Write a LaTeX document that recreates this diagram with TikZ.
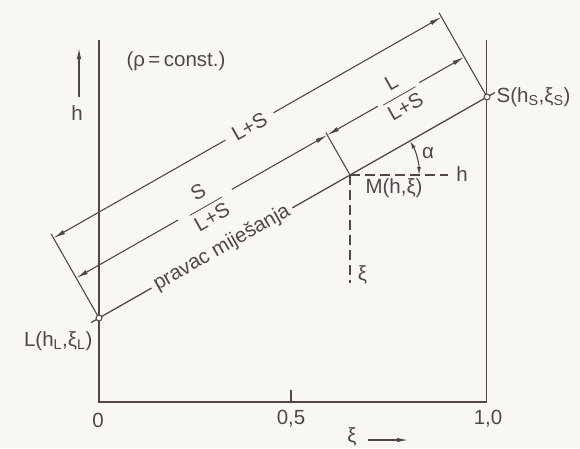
\documentclass[tikz,border=0pt]{standalone}
\usepackage{amsmath}
\usepackage{fontspec}
\setmainfont{Liberation Sans}
\usetikzlibrary{calc, arrows.meta}

\definecolor{inkc}{RGB}{84,70,72}
\definecolor{paperc}{RGB}{248,247,244}

\begin{document}
\begin{tikzpicture}[
    x=1pt, y=1pt, color=inkc, line width=1.3pt,
    every node/.style       = {font=\fontsize{20.5}{24}\selectfont, inner sep=1pt},
    endpt/.style            = {circle, draw, fill=paperc, minimum size=6pt, inner sep=0pt, line width=1pt},
    gaplab/.style           = {sloped, fill=paperc, inner xsep=9pt, inner ysep=0pt},
    dimline/.style          = {line width=1.1pt, {Latex[length=12pt,width=4.5pt]}-{Latex[length=12pt,width=4.5pt]}},
    anglearr/.style         = {line width=1.1pt, {Latex[length=8pt,width=4pt]}-{Latex[length=8pt,width=4pt]}},
    axisline/.style         = {line width=1.6pt},
    helper/.style           = {dash pattern=on 10pt off 5pt},
    pointer/.style          = {-{Latex[length=11pt,width=4.5pt]}}
    ]
      % paper ----------------------------------------------------
      \fill[paperc] (0,0) rectangle (580,-448);
      \useasboundingbox (0,0) rectangle (580,-448);

      % points ---------------------------------------------------
      \coordinate (L)  at (99,-318);
      \coordinate (S)  at (487,-97);
      \coordinate (M)  at ($(L)!0.647!(S)$);
      \coordinate (Le) at ($(L)!-9pt!(S)$);
      \coordinate (Se) at ($(S)!-9pt!(L)$);
      \coordinate (Lp) at ($(L)!97pt!90:(S)$);
      \coordinate (Sp) at ($(S)!97pt!-90:(L)$);
      \coordinate (Mp) at ($(M)!49pt!90:(S)$);
      \coordinate (Lo) at ($(L)!92pt!90:(S)$);
      \coordinate (So) at ($(S)!92pt!-90:(L)$);
      \coordinate (Li) at ($(L)!46pt!90:(S)$);
      \coordinate (Mi) at ($(M)!46pt!90:(S)$);
      \coordinate (Si) at ($(S)!46pt!-90:(L)$);
      \coordinate (Mh) at ($(M)+(98,0)$);
      \coordinate (Mv) at ($(M)+(0,-108)$);
      \coordinate (Ma) at ($(M)+(69,0)$);

      % axes -----------------------------------------------------
      \coordinate (O)    at (99,-402);
      \coordinate (Otop) at (99,-40);
      \coordinate (E)    at (486.5,-402);
      \coordinate (Etop) at (486.5,-40);
      \coordinate (T)    at (291,-402);
      \coordinate (Ttop) at (291,-390);
      \draw[axisline] (Otop) -- (O) -- (E) -- (Etop);
      \draw[axisline] (T) -- (Ttop);

      \node (x0)  at (98,-420)  {0};
      \node (x05) at (291,-419) {0,5};
      \node (x10) at (488,-419) {1,0};
      \node (xi)  at (352,-437) {ξ};
      \coordinate (xiA) at (368,-440);
      \coordinate (xiB) at (408,-440);
      \draw[pointer, line width=1.1pt] (xiA) -- (xiB);

      \node (hax) at (77,-113) {h};
      \coordinate (hA) at (79,-97);
      \coordinate (hB) at (79,-48);
      \draw[pointer, line width=1.1pt] (hA) -- (hB);

      \node (pc) at (176,-61) {(ρ\,=\,const.)};

      % mixing line and construction ------------------------------
      \draw (Le) -- node[gaplab, pos=0.324, inner xsep=4pt] (mix) {pravac miješanja} (Se);
      \draw[line width=1.1pt] (L) -- (Lp);
      \draw[line width=1.1pt] (S) -- (Sp);
      \draw[line width=1.1pt] (M) -- (Mp);
      \draw[helper] (M) -- (Mh);
      \draw[helper] (M) -- (Mv);

      % dimensions -----------------------------------------------
      \draw[dimline] (Lo) -- node[gaplab, pos=0.505] (ls) {L+S} (So);
      \draw[dimline] (Li) -- node[gaplab, pos=0.513, inner xsep=11pt] (sfrac)
            {$\dfrac{\text{S}}{\text{L+S}}$} (Mi);
      \draw[dimline] (Mi) -- node[gaplab, pos=0.52, inner xsep=4pt] (lfrac)
            {$\dfrac{\text{L}}{\text{L+S}}$} (Si);
      \draw[anglearr] (Ma) arc[start angle=0, end angle=29.7, radius=69pt];

      % end points and labels ------------------------------------
      \node[endpt] (Lpt) at (L) {};
      \node[endpt] (Spt) at (S) {};
      \node[anchor=west] (Slab) at ($(S)+(8,0)$) {S(h\textsubscript{S},ξ\textsubscript{S})};
      \node[anchor=east] (Llab) at ($(L)+(-5,-23)$) {L(h\textsubscript{L},ξ\textsubscript{L})};
      \node (Mlab) at ($(M)+(44,-13)$)   {M(h,ξ)};
      \node (hlab) at ($(M)+(112,1)$)    {h};
      \node (xlab) at ($(M)+(12.5,-100)$) {ξ};
      \node (alab) at ($(M)+(78,22)$)    {α};
    \end{tikzpicture}
\end{document}
